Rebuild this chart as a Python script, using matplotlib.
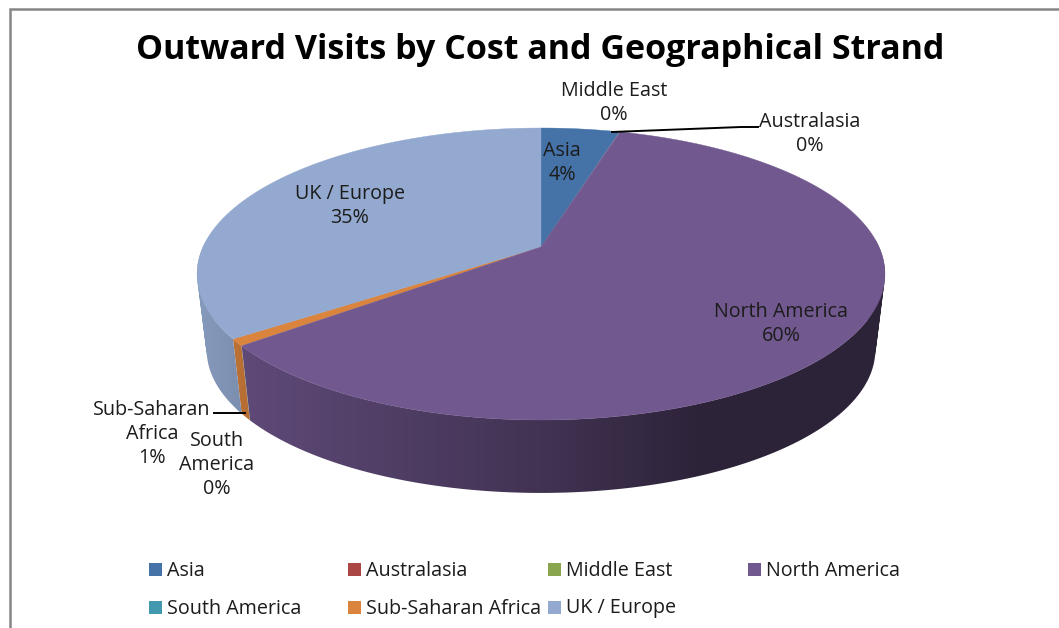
import numpy as np
import matplotlib
matplotlib.use("Agg")
import matplotlib.pyplot as plt
from matplotlib.patches import Rectangle, PathPatch
from matplotlib.path import Path
from matplotlib.colors import to_rgb

# ---- data ----
categories = ["Asia", "Australasia", "Middle East", "North America",
              "South America", "Sub-Saharan Africa", "UK / Europe"]
shares = [4.4, 0.02, 0.02, 59.9, 0.02, 0.75, 34.89]
title = "Outward Visits by Cost and Geographical Strand"
legend_rows = [["Asia", "Australasia", "Middle East", "North America"],
               ["South America", "Sub-Saharan Africa", "UK / Europe"]]

# ---- styles ----
colors = dict(zip(categories, ["#4572A7", "#AA4643", "#89A54E", "#71588F",
                               "#4198AF", "#DB843D", "#93A9CF"]))
FONT = "Open Sans"
TXT = "#1c1c1c"
FS = 14.2
plt.rcParams["font.family"] = FONT

fig = plt.figure(figsize=(10.59, 6.28), dpi=100)
ax = fig.add_axes([0, 0, 1, 1])
ax.axis("off")

# Chart frame
ax.plot([9.5, 9.5, 1059], [628, 8.5, 8.5], color="#858585", lw=1.8, solid_joinstyle="miter")

# Perspective projection of the pie disc
CX, APEX_Y, A, B, C = 541.0, 247.0, 338.0, 95.3, -0.185
WIDE_Y = 274.0


def top_xy(theta):
    u, v = np.sin(theta), -np.cos(theta)
    d = 1 + C * v
    return CX + A * u / d, (B * v + APEX_Y) / d


def bottom_xy(theta):
    x, y = top_xy(theta)
    return CX + (x - CX) * 0.972, WIDE_Y + (y - WIDE_Y) * 0.979 + 76.0


def shade(x):
    return np.interp(x, [205, 250, 541, 700, 880], [0.90, 0.83, 0.58, 0.40, 0.40])


edges = np.radians(np.concatenate([[0], np.cumsum(shares)]) / np.sum(shares) * 360)
FRONT_START, FRONT_END = np.radians(76), np.radians(284)

# Side wall: a horizontal gradient clipped to each slice's swept outer wall
xs = np.linspace(190, 890, 701)
for name, t0, t1 in zip(categories, edges[:-1], edges[1:]):
    a, b = max(t0, FRONT_START), min(t1, FRONT_END)
    if b <= a:
        continue
    th = np.linspace(a, b, 160)
    xt, yt = top_xy(th)
    xb, yb = bottom_xy(th)
    verts, codes = [], []
    for i in range(len(th) - 1):
        quad = np.array([[xt[i], yt[i]], [xt[i + 1], yt[i + 1]],
                         [xb[i + 1], yb[i + 1]], [xb[i], yb[i]]])
        area = 0.5 * np.sum(quad[:, 0] * np.roll(quad[:, 1], -1) - np.roll(quad[:, 0], -1) * quad[:, 1])
        if area < 0:
            quad = quad[::-1]
        verts += list(quad) + [quad[0]]
        codes += [Path.MOVETO, Path.LINETO, Path.LINETO, Path.LINETO, Path.CLOSEPOLY]
    patch = PathPatch(Path(np.array(verts), codes), transform=ax.transData,
                      facecolor="none", edgecolor="none")
    ax.add_patch(patch)
    grad = (np.array(to_rgb(colors[name]))[None, :] * shade(xs)[:, None])[None, :, :]
    im = ax.imshow(grad, extent=[xs[0], xs[-1], 510, 240], aspect="auto",
                   interpolation="bilinear", zorder=2)
    im.set_clip_path(patch)

# Top face: slimmest slices first, so the large ones keep clean edges
for i in np.argsort(shares):
    name, t0, t1 = categories[i], edges[i], edges[i + 1]
    th = np.linspace(t0, t1, max(3, int(np.degrees(t1 - t0)) * 2))
    x, y = top_xy(th)
    ax.fill(np.r_[CX, x], np.r_[APEX_Y, y], color=colors[name],
            lw=0.3 if shares[i] >= 0.5 else 0, zorder=3)

# Title
ax.text(540.5, 50, title, ha="center", va="center", fontsize=24.5,
        fontweight="bold", color="black", zorder=5)

# Data labels
label_pos = {"Asia": (562, 163), "Australasia": (810, 134), "Middle East": (614, 103),
             "North America": (781, 324), "South America": (217, 465),
             "Sub-Saharan Africa": (152, 434), "UK / Europe": (350, 206)}
label_name = {"South America": "South\nAmerica", "Sub-Saharan Africa": "Sub-Saharan\nAfrica"}
for name, share in zip(categories, shares):
    lx, ly = label_pos[name]
    ax.text(lx, ly, f"{label_name.get(name, name)}\n{round(share)}%", ha="center", va="center",
            fontsize=FS, color=TXT, linespacing=1.28, zorder=5)

# Leader lines
ax.plot([612, 741, 758], [132, 127, 127], color="black", lw=1.4, zorder=4)
ax.plot([214, 245], [413, 413], color="black", lw=1.4, zorder=4)

# Legend
col_x = [149, 348, 548, 748]
row_y = [569, 607]
for row, yy in zip(legend_rows, row_y):
    for name, xx in zip(row, col_x):
        ax.add_patch(Rectangle((xx, yy - 6), 12.5, 12.5, facecolor=colors[name], edgecolor="none", zorder=5))
        ax.text(xx + 18, yy + 1.5, name, ha="left", va="center", fontsize=FS, color=TXT, zorder=5)

ax.set_xlim(0, 1059)
ax.set_ylim(628, 0)
fig.savefig("out.png", dpi=100, facecolor="white")
